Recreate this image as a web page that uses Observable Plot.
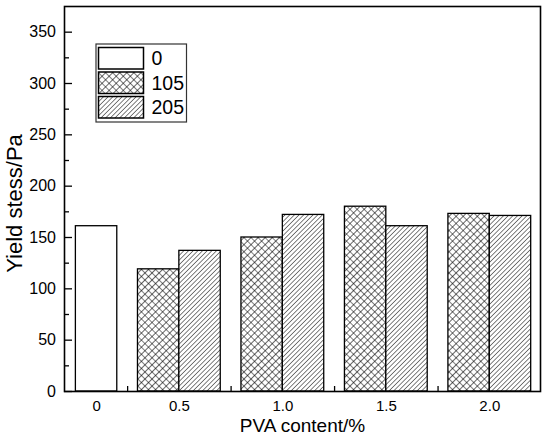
<!DOCTYPE html>
<html>
<head>
<meta charset="utf-8">
<script src="https://cdn.jsdelivr.net/npm/d3@7"></script>
<script src="https://cdn.jsdelivr.net/npm/@observablehq/plot@0.6"></script>
<style>
  html, body { margin: 0; padding: 0; background: #fff; }
  #chart { position: relative; width: 550px; height: 446px; }
</style>
</head>
<body>
<div id="chart"></div>
<script>
// ---- data ----
const categories = ["0", "0.5", "1.0", "1.5", "2.0"];
const seriesNames = ["0", "105", "205"];
const values0   = [161, null, null, null, null];
const values105 = [null, 119, 150, 180, 173];
const values205 = [null, 137, 172, 161, 171];
const yTicks = [0, 50, 100, 150, 200, 250, 300, 350];
const yMinorTicks = [25, 75, 125, 175, 225, 275, 325];
const xTitle = "PVA content/%";
const yTitle = "Yield stess/Pa";

// ---- layout (not data) ----
const W = 550, H = 446, mL = 64, mR = 10, mT = 6, mB = 55;
const plotW = W - mL - mR, plotH = H - mT - mB;
const barWidth = 0.4;
const slotOffset = {"0": 0, "105": -0.4, "205": 0};
const fills = {"0": "white", "105": "url(#crossHatch)", "205": "url(#diagHatch)"};
const font = "'Liberation Sans', Arial, sans-serif";

const seriesValues = {"0": values0, "105": values105, "205": values205};
const bars = [];
seriesNames.forEach(s => {
  seriesValues[s].forEach((v, i) => {
    if (v == null) return;
    const x1 = i + slotOffset[s];
    bars.push({category: categories[i], index: i, series: s, value: v, x1, x2: x1 + barWidth});
  });
});
// label position: centre of the bars present in each category
const xLabels = categories.map((c, i) => {
  const b = bars.filter(d => d.index === i);
  return {label: c, pos: d3.mean(b, d => (d.x1 + d.x2) / 2)};
});
const betweenTicks = categories.slice(1).map((c, i) => i + 0.5);

const plot = Plot.plot({
  width: W,
  height: H,
  marginLeft: mL,
  marginRight: mR,
  marginTop: mT,
  marginBottom: mB,
  style: {fontFamily: font, color: "black", background: "white"},
  x: {type: "linear", domain: [-0.11, 4.49], axis: null},
  y: {domain: [0, 375], axis: null},
  marks: [
    Plot.rect(bars, {
      x1: "x1", x2: "x2", y1: 0, y2: "value",
      fill: d => fills[d.series],
      stroke: "black", strokeWidth: 1.3
    }),
    // inward major / minor y ticks
    Plot.tickY(yTicks, {y: d => d, insetRight: plotW - 8, stroke: "black", strokeWidth: 1.3}),
    Plot.tickY(yMinorTicks, {y: d => d, insetRight: plotW - 5, stroke: "black", strokeWidth: 1.3}),
    // inward x ticks between categories
    Plot.tickX(betweenTicks, {x: d => d, insetTop: plotH - 5, stroke: "black", strokeWidth: 1.3}),
    // y tick labels
    Plot.text(yTicks, {y: d => d, text: d => String(d), frameAnchor: "left", dx: -8.5,
      textAnchor: "end", lineAnchor: "middle", fontSize: 16, fill: "black"}),
    // x tick labels
    Plot.text(xLabels, {x: "pos", text: "label", frameAnchor: "bottom", dy: 9,
      textAnchor: "middle", lineAnchor: "top", fontSize: 15, fill: "black"}),
    Plot.frame({stroke: "black", strokeWidth: 1.6}),
    Plot.text([xTitle], {frameAnchor: "bottom", dy: 34, text: d => d, fontSize: 19,
      textAnchor: "middle", lineAnchor: "middle", fill: "black"}),
    Plot.text([yTitle], {frameAnchor: "left", dx: -49.5, dy: 4.5, rotate: -90, text: d => d,
      fontSize: 22, textAnchor: "middle", lineAnchor: "middle", fill: "black"})
  ]
});

document.getElementById("chart").appendChild(plot);

// ---- patterns and legend ----
const svg = d3.select(plot);
const defs = svg.insert("defs", ":first-child");
const cross = defs.append("pattern")
  .attr("id", "crossHatch").attr("patternUnits", "userSpaceOnUse")
  .attr("width", 5).attr("height", 5)
  .attr("patternTransform", "rotate(45)");
cross.append("rect").attr("width", 5).attr("height", 5).attr("fill", "white");
cross.append("path").attr("d", "M0,0V5M0,0H5").attr("stroke", "black").attr("stroke-width", 1.2);
const diag = defs.append("pattern")
  .attr("id", "diagHatch").attr("patternUnits", "userSpaceOnUse")
  .attr("width", 3.3).attr("height", 3.3)
  .attr("patternTransform", "rotate(45)");
diag.append("rect").attr("width", 3.3).attr("height", 3.3).attr("fill", "white");
diag.append("path").attr("d", "M0,0V3.3").attr("stroke", "black").attr("stroke-width", 1);

const legend = svg.append("g").attr("transform", "translate(96,44)");
legend.append("rect").attr("width", 90.5).attr("height", 78)
  .attr("fill", "white").attr("stroke", "#333").attr("stroke-width", 1.2);
seriesNames.forEach((s, i) => {
  const g = legend.append("g").attr("transform", `translate(2.5,${3.5 + i * 24.5})`);
  g.append("rect").attr("width", 45).attr("height", 21.5)
    .attr("fill", fills[s]).attr("stroke", "black").attr("stroke-width", 1.5);
  g.append("text").attr("x", 53).attr("y", 10.75).attr("dy", "0.36em")
    .attr("text-anchor", "start")
    .attr("font-size", 19.5).attr("font-family", font).attr("fill", "black").text(s);
});
</script>
</body>
</html>
